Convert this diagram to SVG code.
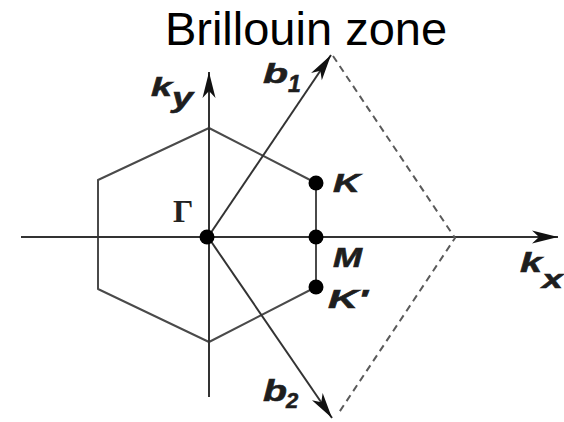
<svg xmlns="http://www.w3.org/2000/svg" width="564" height="422" viewBox="0 0 564 422">
  <style>
    .title { font-family: "Liberation Sans", Arial, sans-serif; font-size: 47px; fill: #000; }
    .lbl { font-family: "Liberation Sans", Arial, sans-serif; font-weight: bold; font-style: italic; fill: #1e1e1e; stroke: #1e1e1e; stroke-width: 0.6; }
    .gam { font-family: "Liberation Serif", "Times New Roman", serif; font-size: 32px; font-weight: bold; fill: #222; }
    .axis { stroke: #333; stroke-width: 2; fill: none; }
    .hex { stroke: #4a4a4a; stroke-width: 2; fill: none; stroke-linejoin: round; }
    .vec { stroke: #333; stroke-width: 2; fill: none; }
    .dash { stroke: #5a5a5a; stroke-width: 2; fill: none; stroke-dasharray: 7 5; }
    .dot { fill: #000; }
  </style>
  <defs>
    <marker id="arr" markerUnits="userSpaceOnUse" markerWidth="30" markerHeight="16" viewBox="-28 -8 30 16" refX="0" refY="0" orient="auto">
      <path d="M0,0 L-26,-6.5 L-19,0 L-26,6.5 Z" fill="#111"/>
    </marker>
  </defs>
  <rect width="564" height="422" fill="#fff"/>
  <text class="title" x="306" y="45" text-anchor="middle">Brillouin zone</text>

  <g id="connectors">
    <path id="hexagon" class="hex" d="M209,128 L316,183 L316,287 L209,342 L98,289 L98,180 Z"/>
    <line id="kx-axis" class="axis" x1="21" y1="237" x2="558" y2="237" marker-end="url(#arr)"/>
    <line id="ky-axis" class="axis" x1="209" y1="397" x2="209" y2="72" marker-end="url(#arr)"/>
    <line id="b1" class="vec" x1="208" y1="237" x2="331" y2="55" marker-end="url(#arr)"/>
    <line id="b2" class="vec" x1="208" y1="237" x2="332" y2="418" marker-end="url(#arr)"/>
    <polyline id="dashed" class="dash" points="333,56 455,238 338,414"/>
  </g>

  <g id="gamma">
    <circle class="dot" cx="207" cy="237" r="7.5"/>
    <text class="gam" x="173" y="222">Γ</text>
  </g>
  <g id="K">
    <circle class="dot" cx="316" cy="183" r="7.5"/>
    <text class="lbl" x="333" y="192" font-size="26" textLength="27" lengthAdjust="spacingAndGlyphs">K</text>
  </g>
  <g id="M">
    <circle class="dot" cx="316" cy="237" r="7.5"/>
    <text class="lbl" x="333" y="267" font-size="27" textLength="29" lengthAdjust="spacingAndGlyphs">M</text>
  </g>
  <g id="Kprime">
    <circle class="dot" cx="316" cy="287" r="7.5"/>
    <text class="lbl" x="328" y="308" font-size="25" textLength="40" lengthAdjust="spacingAndGlyphs">K'</text>
  </g>
  <g id="ky-label">
    <text class="lbl" x="151" y="96" font-size="26" textLength="21" lengthAdjust="spacingAndGlyphs">k</text>
    <text class="lbl" x="172" y="107" font-size="27" textLength="21" lengthAdjust="spacingAndGlyphs">y</text>
  </g>
  <g id="kx-label">
    <text class="lbl" x="520" y="272" font-size="27" textLength="22" lengthAdjust="spacingAndGlyphs">k</text>
    <text class="lbl" x="542" y="288" font-size="26" textLength="21" lengthAdjust="spacingAndGlyphs">x</text>
  </g>
  <g id="b1-label">
    <text class="lbl" x="263" y="83" font-size="28" textLength="25" lengthAdjust="spacingAndGlyphs">b</text>
    <text class="lbl" x="288" y="92" font-size="23">1</text>
  </g>
  <g id="b2-label">
    <text class="lbl" x="263" y="401" font-size="29" textLength="24" lengthAdjust="spacingAndGlyphs">b</text>
    <text class="lbl" x="286" y="408" font-size="22">2</text>
  </g>
</svg>
